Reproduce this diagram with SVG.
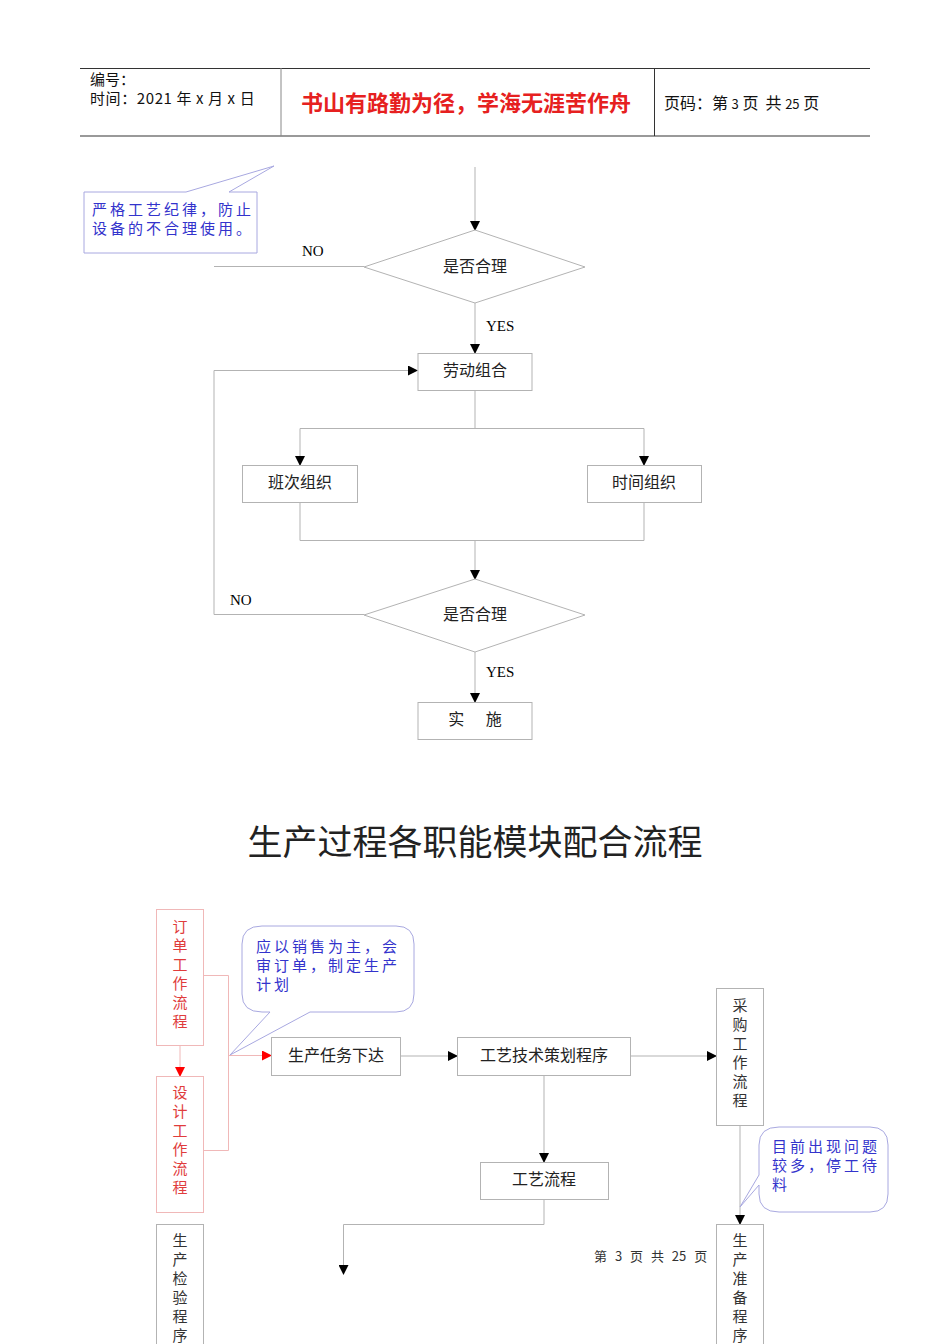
<svg xmlns="http://www.w3.org/2000/svg" width="950" height="1344" viewBox="0 0 950 1344">
<style>
.t{font-family:"Noto Sans CJK SC","Liberation Sans",sans-serif;fill:#222;font-size:16px}
.s{font-family:"Liberation Serif",serif;fill:#000;font-size:15px}
.box{fill:#fff;stroke:#b3b3b3;stroke-width:1}
.rbox{fill:#fff;stroke:#f0b8b8;stroke-width:1}
.ln{fill:none;stroke:#b3b3b3;stroke-width:1}
.rl{fill:none;stroke:#f0b8b8;stroke-width:1}
.blue{font-family:"Noto Sans CJK SC",sans-serif;fill:#3333cc;font-size:15px;letter-spacing:3px}
.call{fill:#fff;stroke:#a8a8e0;stroke-width:1}
.red{font-family:"Noto Sans CJK SC",sans-serif;fill:#e03c3c;font-size:15px}
.vt{font-family:"Noto Sans CJK SC",sans-serif;fill:#333;font-size:15px}
</style>
<defs>
<marker id="a" markerWidth="10" markerHeight="10" refX="9" refY="5" orient="auto" markerUnits="userSpaceOnUse"><path d="M0,0 L10,5 L0,10 z" fill="#000"/></marker>
<marker id="ar" markerWidth="10" markerHeight="10" refX="9" refY="5" orient="auto" markerUnits="userSpaceOnUse"><path d="M0,0 L10,5 L0,10 z" fill="#f00"/></marker>
</defs>

<g id="header">
<line x1="80" y1="68.5" x2="870" y2="68.5" stroke="#333" stroke-width="1"/>
<line x1="80" y1="136" x2="870" y2="136" stroke="#999" stroke-width="2"/>
<line x1="281" y1="68" x2="281" y2="136" stroke="#888"/>
<line x1="654.5" y1="68" x2="654.5" y2="136" stroke="#333"/>
<text x="90" y="85" font-family="Noto Sans CJK SC,Liberation Sans,sans-serif" font-size="15" fill="#111">编号：</text>
<text x="90" y="104" font-family="Noto Sans CJK SC,Liberation Sans,sans-serif" font-size="15" fill="#111" letter-spacing="0.6" xml:space="preserve">时间：2021 年 x 月 x 日</text>
<text x="301" y="111" font-family="Noto Sans CJK SC,sans-serif" font-size="22" font-weight="bold" fill="#e62020">书山有路勤为径，学海无涯苦作舟</text>
<text x="664" y="109" font-family="Noto Sans CJK SC,Liberation Sans,sans-serif" font-size="16" fill="#111" xml:space="preserve">页码：第 <tspan font-size="13">3</tspan> 页  共 <tspan font-size="13">25</tspan> 页</text>
</g>

<g id="connectors1">
<line class="ln" x1="475" y1="167" x2="475" y2="230" marker-end="url(#a)"/>
<line class="ln" x1="214" y1="266.5" x2="364" y2="266.5"/>
<line class="ln" x1="475" y1="303" x2="475" y2="353" marker-end="url(#a)"/>
<path class="ln" d="M475,390 V428.5 M300,465 V428.5 H644 V465"/>
<line x1="300" y1="455" x2="300" y2="465" stroke="none" marker-end="url(#a)"/>
<line x1="644" y1="455" x2="644" y2="465" stroke="none" marker-end="url(#a)"/>
<path class="ln" d="M300,502 V540.5 H644 V502 M475,540 V579" marker-end="url(#a)"/>
<path class="ln" d="M364,614.5 H214 V370.5 H417" marker-end="url(#a)"/>
<line class="ln" x1="475" y1="652" x2="475" y2="702" marker-end="url(#a)"/>
<text class="s" x="302" y="256">NO</text>
<text class="s" x="486" y="331">YES</text>
<text class="s" x="230" y="605">NO</text>
<text class="s" x="486" y="677">YES</text>
</g>

<g id="note1">
<path class="call" d="M84,192 H186 L274,166 L229,192 H257 V253 H84 Z"/>
<text class="blue" x="92" y="215">严格工艺纪律，防止</text>
<text class="blue" x="92" y="234">设备的不合理使用。</text>
</g>

<g id="dec1">
<polygon class="box" points="364,267 475,230 585,267 475,303"/>
<text class="t" x="475" y="272" text-anchor="middle">是否合理</text>
</g>
<g id="labor">
<rect class="box" x="418" y="353.5" width="114" height="37"/>
<text class="t" x="475" y="376" text-anchor="middle">劳动组合</text>
</g>
<g id="shift">
<rect class="box" x="242.5" y="465.5" width="115" height="37"/>
<text class="t" x="300" y="488" text-anchor="middle">班次组织</text>
</g>
<g id="time">
<rect class="box" x="587.5" y="465.5" width="114" height="37"/>
<text class="t" x="644" y="488" text-anchor="middle">时间组织</text>
</g>
<g id="dec2">
<polygon class="box" points="364,615 475,579 585,615 475,652"/>
<text class="t" x="475" y="620" text-anchor="middle">是否合理</text>
</g>
<g id="impl">
<rect class="box" x="418" y="702.5" width="114" height="37"/>
<text class="t" x="475" y="725" text-anchor="middle" xml:space="preserve">实      施</text>
</g>

<text x="475" y="855" font-family="Noto Sans CJK SC,sans-serif" font-size="35" fill="#222" text-anchor="middle">生产过程各职能模块配合流程</text>

<g id="connectors2">
<line class="rl" x1="180" y1="1045" x2="180" y2="1076" marker-end="url(#ar)"/>
<path class="rl" d="M203,975.5 H228.5 V1150.5 H203"/>
<line class="rl" x1="228" y1="1055.5" x2="271" y2="1055.5" marker-end="url(#ar)"/>
<line class="ln" x1="400" y1="1056" x2="457" y2="1056" marker-end="url(#a)"/>
<line class="ln" x1="630" y1="1056" x2="716" y2="1056" marker-end="url(#a)"/>
<line class="ln" x1="544" y1="1075" x2="544" y2="1162" marker-end="url(#a)"/>
<path class="ln" d="M544,1199 V1224.5 H343.5 V1274" marker-end="url(#a)"/>
<line class="ln" x1="740" y1="1125" x2="740" y2="1224" marker-end="url(#a)"/>
</g>

<g id="order">
<rect class="rbox" x="156.5" y="909.5" width="47" height="136"/>
<text class="red" text-anchor="middle"><tspan x="180" y="932">订</tspan><tspan x="180" y="951">单</tspan><tspan x="180" y="970">工</tspan><tspan x="180" y="989">作</tspan><tspan x="180" y="1008">流</tspan><tspan x="180" y="1027">程</tspan></text>
</g>
<g id="design">
<rect class="rbox" x="156.5" y="1076.5" width="47" height="136"/>
<text class="red" text-anchor="middle"><tspan x="180" y="1098">设</tspan><tspan x="180" y="1117">计</tspan><tspan x="180" y="1136">工</tspan><tspan x="180" y="1155">作</tspan><tspan x="180" y="1174">流</tspan><tspan x="180" y="1193">程</tspan></text>
</g>
<g id="note2">
<path class="call" d="M262,926 H396 Q414,926 414,944 V994 Q414,1012 396,1012 H310 L230,1055 L270,1012 H262 Q242,1012 242,994 V944 Q242,926 262,926 Z"/>
<text class="blue" x="256" y="952" letter-spacing="3.5">应以销售为主，会</text>
<text class="blue" x="256" y="971" letter-spacing="3.5">审订单，制定生产</text>
<text class="blue" x="256" y="990" letter-spacing="3.5">计划</text>
</g>
<g id="task">
<rect class="box" x="271.5" y="1037.5" width="129" height="38"/>
<text class="t" x="336" y="1061" text-anchor="middle">生产任务下达</text>
</g>
<g id="plan">
<rect class="box" x="457.5" y="1037.5" width="173" height="38"/>
<text class="t" x="544" y="1061" text-anchor="middle">工艺技术策划程序</text>
</g>
<g id="purchase">
<rect class="box" x="716.5" y="988.5" width="47" height="137"/>
<text class="vt" text-anchor="middle"><tspan x="740" y="1011">采</tspan><tspan x="740" y="1030">购</tspan><tspan x="740" y="1049">工</tspan><tspan x="740" y="1068">作</tspan><tspan x="740" y="1087">流</tspan><tspan x="740" y="1106">程</tspan></text>
</g>
<g id="proc">
<rect class="box" x="480.5" y="1162.5" width="128" height="37"/>
<text class="t" x="544" y="1185" text-anchor="middle">工艺流程</text>
</g>
<g id="note3">
<path class="call" d="M779,1127 H870 Q888,1127 888,1145 V1194 Q888,1212 870,1212 H779 Q759,1212 759,1194 V1185 L740,1207 L759,1175 V1145 Q759,1127 779,1127 Z"/>
<text class="blue" x="772" y="1152">目前出现问题</text>
<text class="blue" x="772" y="1171">较多，停工待</text>
<text class="blue" x="772" y="1190">料</text>
</g>
<g id="inspect">
<rect class="box" x="156.5" y="1224.5" width="47" height="130"/>
<text class="vt" text-anchor="middle"><tspan x="180" y="1246">生</tspan><tspan x="180" y="1265">产</tspan><tspan x="180" y="1284">检</tspan><tspan x="180" y="1303">验</tspan><tspan x="180" y="1322">程</tspan><tspan x="180" y="1341">序</tspan></text>
</g>
<g id="prep">
<rect class="box" x="716.5" y="1224.5" width="47" height="130"/>
<text class="vt" text-anchor="middle"><tspan x="740" y="1246">生</tspan><tspan x="740" y="1265">产</tspan><tspan x="740" y="1284">准</tspan><tspan x="740" y="1303">备</tspan><tspan x="740" y="1322">程</tspan><tspan x="740" y="1341">序</tspan></text>
</g>
<text x="594" y="1261" font-family="Noto Sans CJK SC,Liberation Sans,sans-serif" font-size="13" fill="#333" word-spacing="5" xml:space="preserve">第 3 页 共 25 页</text>
</svg>
